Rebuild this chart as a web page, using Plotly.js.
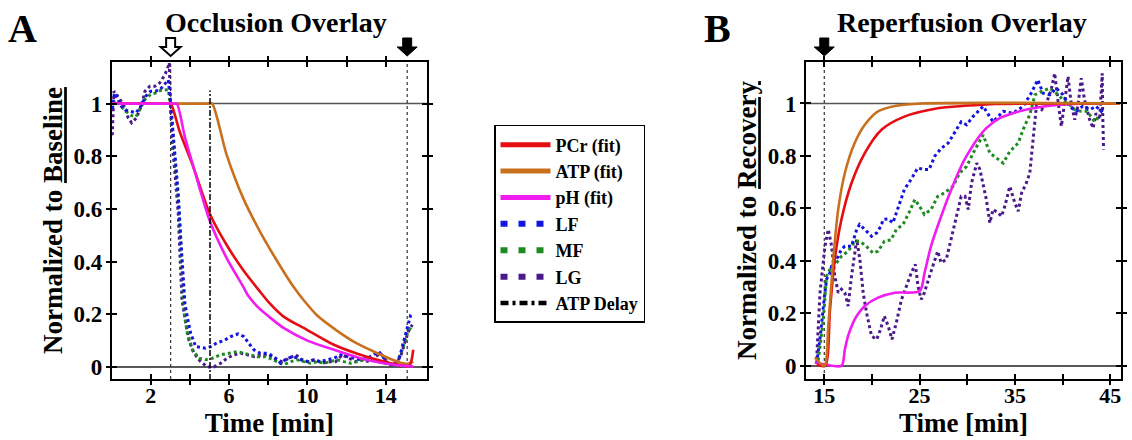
<!DOCTYPE html>
<html>
<head>
<meta charset="utf-8">
<script src="https://cdn.plot.ly/plotly-3.0.1.min.js"></script>
<style>
html,body{margin:0;padding:0;background:#fff;}
#chart{width:1132px;height:440px;}
</style>
</head>
<body>
<div id="chart"></div>
<script>
// ---------- Panel A: Occlusion ----------
const occPCrT = [0, 2.9, 3.02, 3.5, 4.15, 5.03, 5.88, 6.72, 7.58, 8.09, 8.8, 10.0, 11.35, 12.7, 13.9, 14.92, 15.2, 15.4];
const occPCrY = [1, 1, 1, 0.89, 0.765, 0.58, 0.463, 0.368, 0.286, 0.24, 0.19, 0.14, 0.084, 0.046, 0.02, 0.004, 0.004, 0.065];
const occATPT = [0, 5.0, 5.14, 5.88, 6.72, 7.58, 8.43, 9.28, 9.79, 10.5, 11.5, 12.5, 13.57, 14.6, 15.1, 15.4];
const occATPY = [1, 1, 1, 0.805, 0.641, 0.514, 0.405, 0.305, 0.255, 0.195, 0.138, 0.09, 0.052, 0.02, 0.012, 0.02];
const occPHT = [0, 3.2, 3.33, 3.76, 4.18, 4.6, 5.03, 5.88, 6.72, 7.0, 7.5, 8.0, 8.8, 10.0, 11.35, 12.7, 13.9, 14.9, 15.4];
const occPHY = [1, 1, 1, 0.869, 0.761, 0.653, 0.552, 0.413, 0.305, 0.268, 0.225, 0.193, 0.147, 0.10, 0.065, 0.033, 0.014, 0.004, 0.002];

const occLFT = [0.05, 0.15, 0.3, 0.5, 0.75, 1.0, 1.25, 1.5, 1.75, 2.0, 2.25, 2.5, 2.75, 2.9, 3.0, 3.12, 3.26, 3.41, 3.55, 3.66, 3.75, 3.87, 4.04, 4.3, 4.8, 5.06, 5.4, 5.74, 6.08, 6.46, 6.76, 7.0, 7.27, 7.6, 7.95, 8.3, 8.63, 8.97, 9.31, 9.65, 10.0, 10.33, 10.67, 11.0, 11.35, 11.69, 12.03, 12.37, 12.7, 13.05, 13.4, 13.65, 13.9, 14.16, 14.4, 14.67, 14.92, 15.1, 15.27, 15.37];
const occLFY = [0.98, 1.04, 1.02, 0.99, 0.975, 0.97, 0.965, 0.99, 1.028, 1.047, 1.047, 1.055, 1.075, 1.09, 1.02, 0.906, 0.78, 0.653, 0.47, 0.32, 0.24, 0.19, 0.128, 0.077, 0.071, 0.077, 0.092, 0.10, 0.115, 0.125, 0.115, 0.09, 0.065, 0.052, 0.052, 0.039, 0.014, 0.033, 0.039, 0.027, 0.02, 0.027, 0.02, 0.027, 0.033, 0.046, 0.039, 0.033, 0.027, 0.033, 0.046, 0.058, 0.033, 0.008, 0.008, 0.027, 0.10, 0.15, 0.197, 0.204];
const occMFT = [0.1, 0.3, 0.5, 0.75, 1.0, 1.25, 1.5, 1.75, 2.0, 2.25, 2.5, 2.75, 2.9, 3.0, 3.12, 3.26, 3.41, 3.55, 3.65, 3.72, 3.87, 4.13, 4.47, 4.8, 5.15, 5.57, 6.0, 6.42, 6.76, 7.1, 7.44, 7.87, 8.2, 8.55, 8.8, 9.14, 9.48, 9.82, 10.16, 10.5, 10.84, 11.18, 11.52, 11.86, 12.2, 12.54, 12.9, 13.22, 13.56, 13.9, 14.24, 14.58, 14.84, 15.1, 15.35];
const occMFY = [1.0, 1.01, 0.99, 0.97, 0.955, 0.95, 0.985, 1.02, 1.035, 1.04, 1.05, 1.053, 1.053, 1.0, 0.9, 0.77, 0.64, 0.45, 0.30, 0.2, 0.128, 0.065, 0.033, 0.027, 0.033, 0.046, 0.052, 0.058, 0.052, 0.046, 0.039, 0.039, 0.027, 0.014, 0.008, 0.02, 0.027, 0.02, 0.014, 0.02, 0.014, 0.02, 0.027, 0.02, 0.014, 0.02, 0.027, 0.027, 0.02, 0.014, 0.008, 0.02, 0.065, 0.128, 0.16];
const occLGT = [0.04, 0.13, 0.3, 0.5, 0.7, 0.85, 1.03, 1.28, 1.54, 1.71, 1.96, 2.22, 2.47, 2.73, 2.9, 2.95, 3.02, 3.1, 3.26, 3.41, 3.5, 3.6, 3.79, 3.96, 4.21, 4.55, 4.89, 5.23, 5.57, 5.9, 6.25, 6.6, 6.93, 7.27, 7.7, 8.04, 8.38, 8.72, 9.06, 9.4, 9.74, 10.08, 10.42, 10.76, 11.1, 11.44, 11.78, 12.12, 12.46, 12.8, 13.14, 13.48, 13.73, 13.98, 14.24, 14.5, 14.75, 15.0, 15.18, 15.35];
const occLGY = [0.88, 1.047, 1.03, 1.009, 0.983, 0.946, 0.927, 0.946, 0.996, 1.047, 1.066, 1.066, 1.079, 1.11, 1.142, 1.155, 0.98, 0.85, 0.72, 0.58, 0.42, 0.254, 0.166, 0.10, 0.052, 0.02, 0.0, 0.0, 0.014, 0.033, 0.046, 0.052, 0.046, 0.039, 0.046, 0.046, 0.027, 0.02, 0.033, 0.046, 0.027, 0.02, 0.027, 0.014, 0.02, 0.02, 0.046, 0.033, 0.02, 0.027, 0.02, 0.039, 0.052, 0.027, 0.008, 0.014, 0.039, 0.10, 0.14, 0.16];
const atpDelayT = [5.03, 5.03];
const atpDelayY = [-0.05, 1.05];

// ---------- Panel B: Reperfusion ----------
const repPCrT = [14.2, 15.07, 15.6, 16.1, 16.8, 17.86, 19.25, 21.0, 23.4, 26.9, 29.7, 33.0, 46.0];
const repPCrY = [0.005, 0.0, 0.215, 0.406, 0.558, 0.697, 0.811, 0.90, 0.95, 0.982, 0.991, 0.998, 1.0];
const repATPT = [14.02, 15.0, 15.42, 15.94, 16.46, 17.16, 18.2, 19.25, 20.64, 22.7, 25.2, 46.0];
const repATPY = [0.032, 0.0, 0.152, 0.406, 0.596, 0.735, 0.85, 0.919, 0.97, 0.992, 1.0, 1.0];
const repPHT = [14.0, 15.0, 16.8, 17.16, 17.5, 18.03, 18.4, 19.25, 20.64, 22.4, 25.0, 25.52, 26.2, 27.26, 28.3, 29.35, 29.93, 31.0, 32.0, 33.4, 34.8, 36.9, 39.7, 43.2, 45.3];
const repPHY = [0.013, 0.006, 0.0, 0.063, 0.114, 0.165, 0.19, 0.228, 0.26, 0.279, 0.285, 0.355, 0.456, 0.57, 0.67, 0.76, 0.80, 0.862, 0.906, 0.944, 0.963, 0.982, 0.995, 1.0, 1.0];

const repLFT = [14.2, 14.6, 15.0, 15.24, 15.6, 15.77, 16.3, 16.8, 17.16, 17.86, 18.4, 18.7, 19.25, 19.95, 20.5, 20.9, 21.2, 21.7, 22.2, 22.7, 23.4, 24.1, 24.8, 25.5, 26.0, 26.6, 27.3, 28.0, 28.66, 29.36, 29.93, 30.6, 31.67, 32.7, 33.77, 34.8, 35.86, 36.7, 37.4, 37.95, 38.65, 39.35, 40.05, 40.74, 41.44, 42.1, 42.84, 43.5, 44.05, 44.3];
const repLFY = [0.01, 0.12, 0.26, 0.33, 0.355, 0.38, 0.406, 0.444, 0.456, 0.456, 0.52, 0.539, 0.52, 0.494, 0.507, 0.53, 0.558, 0.56, 0.545, 0.596, 0.672, 0.71, 0.754, 0.748, 0.748, 0.80, 0.83, 0.849, 0.887, 0.93, 0.919, 0.95, 0.989, 0.93, 0.97, 0.963, 0.989, 1.039, 1.09, 1.039, 1.033, 1.058, 1.033, 0.989, 0.97, 0.989, 0.976, 0.989, 0.97, 0.98];
const repMFT = [14.37, 14.9, 15.24, 15.77, 16.3, 16.8, 17.5, 18.2, 18.73, 19.4, 20.1, 20.64, 21.3, 22.0, 22.56, 23.26, 23.95, 24.5, 25.0, 25.5, 26.2, 26.9, 27.6, 28.5, 29.2, 29.93, 30.8, 31.67, 32.37, 33.07, 33.77, 34.46, 35.34, 36.0, 36.56, 37.1, 37.8, 38.65, 39.35, 40.05, 40.74, 41.27, 41.96, 42.6, 43.36, 43.9];
const repMFY = [0.02, 0.177, 0.342, 0.38, 0.393, 0.418, 0.437, 0.475, 0.475, 0.456, 0.43, 0.437, 0.475, 0.48, 0.52, 0.539, 0.589, 0.634, 0.608, 0.577, 0.596, 0.646, 0.659, 0.684, 0.735, 0.76, 0.824, 0.88, 0.811, 0.792, 0.773, 0.817, 0.849, 0.913, 0.957, 1.033, 1.046, 1.058, 1.039, 1.014, 0.995, 0.976, 0.97, 0.97, 0.93, 0.957];
const repLGT = [14.2, 14.55, 15.07, 15.42, 15.77, 16.1, 16.46, 16.8, 17.16, 17.5, 17.86, 18.4, 18.73, 19.08, 19.43, 19.95, 20.5, 20.9, 21.3, 21.7, 22.1, 22.56, 23.1, 23.6, 24.13, 24.55, 24.83, 25.17, 25.5, 26.04, 26.57, 26.9, 27.26, 27.8, 28.3, 28.8, 29.36, 29.76, 30.1, 30.45, 31.0, 31.33, 31.67, 32.0, 32.37, 32.7, 33.24, 33.6, 33.94, 34.46, 34.99, 35.34, 35.7, 36.2, 36.56, 36.9, 37.25, 37.8, 38.3, 38.8, 39.17, 39.5, 39.87, 40.2, 40.57, 40.9, 41.27, 41.6, 41.96, 42.3, 42.84, 43.2, 43.5, 43.88, 44.16, 44.2, 44.3];
const repLGY = [0.025, 0.279, 0.456, 0.52, 0.456, 0.342, 0.279, 0.292, 0.279, 0.228, 0.342, 0.482, 0.406, 0.279, 0.203, 0.114, 0.101, 0.139, 0.19, 0.152, 0.101, 0.165, 0.253, 0.304, 0.355, 0.387, 0.304, 0.253, 0.279, 0.342, 0.406, 0.437, 0.393, 0.406, 0.482, 0.558, 0.646, 0.646, 0.596, 0.697, 0.773, 0.748, 0.684, 0.634, 0.545, 0.596, 0.583, 0.57, 0.608, 0.684, 0.621, 0.589, 0.659, 0.697, 0.735, 0.875, 0.989, 0.976, 1.001, 1.052, 1.115, 1.014, 0.913, 1.001, 1.103, 1.001, 0.938, 0.989, 1.096, 1.014, 0.938, 0.906, 0.963, 0.938, 1.115, 0.976, 0.824];

// ---------- Ticks / labels ----------
const occTickVals = [2, 4, 6, 8, 10, 12, 14];
const occTickText = ['2', '', '6', '', '10', '', '14'];
const repTickVals = [15, 20, 25, 30, 35, 40, 45];
const repTickText = ['15', '', '25', '', '35', '', '45'];
const yTickVals = [0, 0.2, 0.4, 0.6, 0.8, 1];
const yTickText = ['0', '0.2', '0.4', '0.6', '0.8', '1'];
const legendNames = ['PCr (fit)', 'ATP (fit)', 'pH (fit)', 'LF', 'MF', 'LG', 'ATP Delay'];

const C = {pcr:'#e50c12', atp:'#c8701e', ph:'#f01cf0', lf:'#1414e0', mf:'#1f8a1f', lg:'#4a1a8a', delay:'#000'};
const SERIF = 'Liberation Serif, Times New Roman, serif';
const fitW = 2.6, datW = 3;

function fit(x, y, color, xa, ya) {
  return {x:x, y:y, mode:'lines', line:{color:color, width:fitW, shape:'spline', smoothing:0.8}, xaxis:xa, yaxis:ya, showlegend:false, hoverinfo:'skip'};
}
function dat(x, y, color, xa, ya) {
  return {x:x, y:y, mode:'lines', line:{color:color, width:datW, dash:'3px,3px'}, xaxis:xa, yaxis:ya, showlegend:false, hoverinfo:'skip'};
}
function leg(name, color, dash, w) {
  return {x:[null], y:[null], mode:'lines', name:name, line:{color:color, width:w, dash:dash}, xaxis:'x', yaxis:'y', showlegend:true, hoverinfo:'skip'};
}

const traces = [
  dat(occLGT, occLGY, C.lg, 'x', 'y'),
  dat(occMFT, occMFY, C.mf, 'x', 'y'),
  dat(occLFT, occLFY, C.lf, 'x', 'y'),
  fit(occATPT, occATPY, C.atp, 'x', 'y'),
  fit(occPCrT, occPCrY, C.pcr, 'x', 'y'),
  fit(occPHT, occPHY, C.ph, 'x', 'y'),
  {x:atpDelayT, y:atpDelayY, mode:'lines', line:{color:'#000', width:1.5, dash:'6px,2px,2px,2px'}, xaxis:'x', yaxis:'y', showlegend:false, hoverinfo:'skip'},

  dat(repLGT, repLGY, C.lg, 'x2', 'y2'),
  dat(repMFT, repMFY, C.mf, 'x2', 'y2'),
  dat(repLFT, repLFY, C.lf, 'x2', 'y2'),
  fit(repPHT, repPHY, C.ph, 'x2', 'y2'),
  fit(repPCrT, repPCrY, C.pcr, 'x2', 'y2'),
  fit(repATPT, repATPY, C.atp, 'x2', 'y2'),

  {x:[], y:[], xaxis:'x3', yaxis:'y3', showlegend:false, mode:'lines'},
  {x:[], y:[], xaxis:'x4', yaxis:'y4', showlegend:false, mode:'lines'},

  leg(legendNames[0], C.pcr, 'solid', 5),
  leg(legendNames[1], C.atp, 'solid', 5),
  leg(legendNames[2], C.ph, 'solid', 5),
  leg(legendNames[3], C.lf, '7px,11px', 6),
  leg(legendNames[4], C.mf, '7px,11px', 6),
  leg(legendNames[5], C.lg, '7px,11px', 6),
  leg(legendNames[6], '#000', '8px,4px,3px,4px', 4.5)
];

const tickFont = {family:SERIF, size:22, color:'#000', weight:'bold'};
const yTickFont = {family:SERIF, size:23, color:'#000', weight:'bold'};
const titleFont = {family:SERIF, size:27, color:'#000', weight:'bold'};
const headFont = {family:SERIF, size:28, color:'#000', weight:'bold'};
const yDom = [0.1386, 0.8591];
const xDomA = [0.0989, 0.3772];
const xDomB = [0.712, 0.9903];
const rangeA = [0.026, 16.1];
const rangeB = [13.08, 46.13];
const rangeY = [-0.046, 1.158];
const rangeY2 = [-0.05, 1.158];

function mainX(dom, range, tv, tt, anchor) {
  return {domain:dom, range:range, anchor:anchor, showline:true, linewidth:2, linecolor:'#000', mirror:'allticks',
    ticks:'inside', ticklen:5, tickwidth:2, tickcolor:'#000', tickvals:tv, ticktext:tt, tickfont:tickFont,
    ticklabelstandoff:-4, showgrid:false, zeroline:false, fixedrange:true,
    title:{text:'Time [min]', font:titleFont, standoff:3}};
}
function mainY(range, anchor, title) {
  return {domain:yDom, range:range, anchor:anchor, showline:true, linewidth:2, linecolor:'#000', mirror:'allticks',
    ticks:'inside', ticklen:5, tickwidth:2, tickcolor:'#000', tickvals:yTickVals, ticktext:yTickText, tickfont:yTickFont,
    ticklabelstandoff:3, showgrid:false, zeroline:false, fixedrange:true,
    title:{text:title, font:titleFont, standoff:3}};
}
function overX(base, range, tv, anchor) {
  return {overlaying:base, anchor:anchor, range:range, ticks:'outside', ticklen:5, tickwidth:2, tickcolor:'#000',
    mirror:'allticks', showline:false, showticklabels:false, tickvals:tv, showgrid:false, zeroline:false, fixedrange:true};
}
function overY(base, range, anchor) {
  return {overlaying:base, anchor:anchor, range:range, ticks:'outside', ticklen:5, tickwidth:2, tickcolor:'#000',
    mirror:'allticks', showline:false, showticklabels:false, tickvals:yTickVals, showgrid:false, zeroline:false, fixedrange:true};
}

function arrow(xref, xval, hollow) {
  return {type:'path', xref:xref, yref:(xref === 'x' ? 'y domain' : 'y2 domain'), xsizemode:'pixel', ysizemode:'pixel',
    xanchor:xval, yanchor:1,
    path:'M -4.5,24 L 4.5,24 L 4.5,15 L 10,15 L 0,6 L -10,15 L -4.5,15 Z',
    fillcolor: hollow ? '#fff' : '#000', line:{color:'#000', width: hollow ? 2 : 1}};
}
function hline(xref, yref, yv, color) {
  return {type:'line', xref:xref + ' domain', yref:yref, x0:0, x1:1, y0:yv, y1:yv, line:{color:color, width:1.5}, layer:'below'};
}
function vdash(xref, yref, xv) {
  return {type:'line', xref:xref, yref:yref + ' domain', x0:xv, x1:xv, y0:0, y1:1, line:{color:'#333', width:1.2, dash:'3px,3px'}, layer:'below'};
}

const layout = {
  width:1132, height:440,
  margin:{l:0, r:0, t:0, b:0},
  paper_bgcolor:'#fff', plot_bgcolor:'#fff',
  showlegend:true,
  font:{family:SERIF, color:'#000'},
  xaxis: mainX(xDomA, rangeA, occTickVals, occTickText, 'y'),
  yaxis: mainY(rangeY, 'x', 'Normalized to <span style="text-decoration:underline">Baseline</span>'),
  xaxis2: mainX(xDomB, rangeB, repTickVals, repTickText, 'y2'),
  yaxis2: mainY(rangeY2, 'x2', 'Normalized to <span style="text-decoration:underline">Recovery</span>'),
  xaxis3: overX('x', rangeA, occTickVals, 'y3'),
  yaxis3: overY('y', rangeY, 'x3'),
  xaxis4: overX('x2', rangeB, repTickVals, 'y4'),
  yaxis4: overY('y2', rangeY2, 'x4'),
  legend:{x:0.4364, y:0.716, xanchor:'left', yanchor:'top', bgcolor:'#fff', bordercolor:'#000', borderwidth:1.5,
    font:{family:SERIF, size:18, color:'#000', weight:'bold'}, itemwidth:50, traceorder:'normal', tracegroupgap:0},
  shapes:[
    hline('x', 'y', 1, '#555'), hline('x', 'y', 0, '#222'),
    hline('x2', 'y2', 1, '#555'), hline('x2', 'y2', 0, '#222'),
    vdash('x', 'y', 3.02), vdash('x', 'y', 15.09), vdash('x2', 'y2', 15.0),
    arrow('x', 3.02, true), arrow('x', 15.09, false), arrow('x2', 15.0, false)
  ],
  annotations:[
    {text:'A', xref:'paper', yref:'paper', x:0.0203, y:0.936, showarrow:false, xanchor:'center', yanchor:'middle', font:{family:SERIF, size:40, color:'#000', weight:'bold'}},
    {text:'B', xref:'paper', yref:'paper', x:0.634, y:0.936, showarrow:false, xanchor:'center', yanchor:'middle', font:{family:SERIF, size:40, color:'#000', weight:'bold'}},
    {text:'Occlusion Overlay', xref:'paper', yref:'paper', x:0.2438, y:0.95, showarrow:false, xanchor:'center', yanchor:'middle', font:headFont},
    {text:'Reperfusion Overlay', xref:'paper', yref:'paper', x:0.8498, y:0.95, showarrow:false, xanchor:'center', yanchor:'middle', font:headFont}
  ]
};

Plotly.newPlot('chart', traces, layout, {displayModeBar:false, staticPlot:true});
</script>
</body>
</html>
